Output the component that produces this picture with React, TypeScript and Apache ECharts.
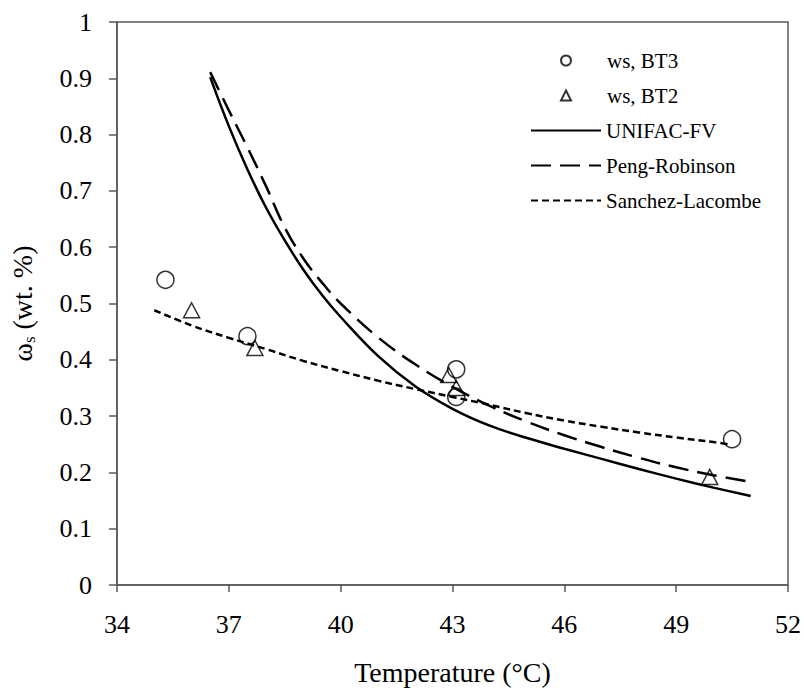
import React, { useEffect, useRef } from "react";
import * as echarts from "echarts";

// Experimental data (Temperature °C, ωs)
const bt3Temps = [35.3, 37.5, 43.1, 43.1, 50.5];
const bt3Values = [0.542, 0.442, 0.383, 0.334, 0.259];
const bt2Temps = [36.0, 37.7, 42.9, 43.1, 49.9];
const bt2Values = [0.488, 0.421, 0.373, 0.35, 0.192];

// Model curves
const unifacTemps = [36.5, 37.0, 37.5, 38.0, 38.5, 39.0, 39.5, 40.0, 41.0, 42.0, 43.0, 44.0, 45.0, 46.0, 47.0, 48.0, 49.0, 50.0, 51.0];
const unifacValues = [0.902, 0.815, 0.738, 0.67, 0.612, 0.56, 0.515, 0.476, 0.407, 0.353, 0.313, 0.283, 0.261, 0.242, 0.224, 0.206, 0.189, 0.173, 0.158];
const pengTemps = [36.5, 37.0, 37.5, 38.0, 38.5, 39.0, 39.5, 40.0, 41.0, 42.0, 43.0, 44.0, 45.0, 46.0, 47.0, 48.0, 49.0, 50.0, 51.0];
const pengValues = [0.911, 0.843, 0.777, 0.708, 0.635, 0.58, 0.537, 0.5, 0.44, 0.392, 0.352, 0.318, 0.29, 0.266, 0.245, 0.226, 0.209, 0.195, 0.183];
const sanchezTemps = [35.0, 36.0, 37.0, 38.0, 39.0, 40.0, 41.0, 42.0, 43.0, 44.0, 45.0, 46.0, 47.0, 48.0, 49.0, 50.0, 50.4];
const sanchezValues = [0.488, 0.461, 0.439, 0.419, 0.398, 0.38, 0.363, 0.348, 0.334, 0.32, 0.305, 0.292, 0.281, 0.271, 0.262, 0.254, 0.25];

const seriesNames = ["ws, BT3", "ws, BT2", "UNIFAC-FV", "Peng-Robinson", "Sanchez-Lacombe"];

const zip = (xs: number[], ys: number[]) => xs.map((x, i) => [x, ys[i]]);

const FONT = "Liberation Serif";
const AXIS_COLOR = "#595959";

export default function App() {
  const ref = useRef<HTMLDivElement>(null);
  useEffect(() => {
    if (!ref.current) return;
    const chart = echarts.init(ref.current, undefined, { renderer: "svg" });
    chart.setOption({
      animation: false,
      textStyle: { fontFamily: FONT, color: "#000" },
      grid: {
        left: 116,
        top: 22,
        right: 14,
        bottom: 109,
        show: true,
        borderColor: AXIS_COLOR,
        borderWidth: 1.5,
      },
      legend: [
        {
          orient: "vertical",
          left: 560,
          top: 50,
          padding: 0,
          itemWidth: 10,
          itemHeight: 10,
          itemGap: 14,
          data: [seriesNames[0], seriesNames[1]],
          textStyle: { fontFamily: FONT, fontSize: 21, color: "#000", padding: [0, 0, 0, 31] },
        },
        {
          orient: "vertical",
          left: 530,
          top: 120,
          padding: 0,
          itemWidth: 70,
          itemHeight: 10,
          itemGap: 14,
          data: [
            { name: seriesNames[2], itemStyle: { opacity: 0 } },
            { name: seriesNames[3], itemStyle: { opacity: 0 } },
            { name: seriesNames[4], itemStyle: { opacity: 0 } },
          ],
          textStyle: { fontFamily: FONT, fontSize: 21, color: "#000" },
        },
      ],
      xAxis: {
        type: "value",
        min: 34,
        max: 52,
        interval: 3,
        name: "Temperature (°C)",
        nameLocation: "middle",
        nameGap: 73,
        nameTextStyle: { fontFamily: FONT, fontSize: 28, color: "#000" },
        axisLine: { lineStyle: { color: AXIS_COLOR, width: 1.5 } },
        axisTick: { show: true, length: 7, lineStyle: { color: AXIS_COLOR, width: 1.5 } },
        axisLabel: { margin: 26, fontFamily: FONT, fontSize: 26, color: "#000" },
        splitLine: { show: false },
      },
      yAxis: {
        type: "value",
        min: 0,
        max: 1,
        interval: 0.1,
        name: "{a|ω}{s|s}{a| (wt. %)}",
        nameLocation: "middle",
        nameGap: 79,
        nameTextStyle: {
          fontFamily: FONT,
          color: "#000",
          rich: {
            a: { fontFamily: FONT, fontSize: 28, lineHeight: 32, color: "#000" },
            s: { fontFamily: FONT, fontSize: 17, lineHeight: 10, verticalAlign: "bottom", color: "#000" },
          },
        },
        axisLine: { show: true, lineStyle: { color: AXIS_COLOR, width: 1.5 } },
        axisTick: { show: true, length: 8, lineStyle: { color: AXIS_COLOR, width: 1.5 } },
        axisLabel: { margin: 25, fontFamily: FONT, fontSize: 26, color: "#000" },
        splitLine: { show: false },
      },
      series: [
        {
          name: seriesNames[0],
          type: "scatter",
          symbol: "circle",
          symbolSize: 17,
          itemStyle: { color: "transparent", borderColor: "#000", borderWidth: 1.5 },
          data: zip(bt3Temps, bt3Values),
          z: 5,
        },
        {
          name: seriesNames[1],
          type: "scatter",
          symbol: "triangle",
          symbolSize: [16, 15],
          itemStyle: { color: "transparent", borderColor: "#000", borderWidth: 1.5 },
          data: zip(bt2Temps, bt2Values),
          z: 5,
        },
        {
          name: seriesNames[2],
          type: "line",
          smooth: 0.4,
          symbol: "none",
          showSymbol: false,
          lineStyle: { color: "#000", width: 2.5, type: "solid" },
          itemStyle: { color: "#000" },
          data: zip(unifacTemps, unifacValues),
        },
        {
          name: seriesNames[3],
          type: "line",
          smooth: 0.4,
          symbol: "none",
          showSymbol: false,
          lineStyle: { color: "#000", width: 2.5, type: [20, 9] },
          itemStyle: { color: "#000" },
          data: zip(pengTemps, pengValues),
        },
        {
          name: seriesNames[4],
          type: "line",
          smooth: 0.4,
          symbol: "none",
          showSymbol: false,
          lineStyle: { color: "#000", width: 2.5, type: [7, 4] },
          itemStyle: { color: "#000" },
          data: zip(sanchezTemps, sanchezValues),
        },
      ],
    });
    return () => chart.dispose();
  }, []);
  return <div ref={ref} style={{ width: 804, height: 694, position: "absolute", left: 0, top: 0 }} />;
}
